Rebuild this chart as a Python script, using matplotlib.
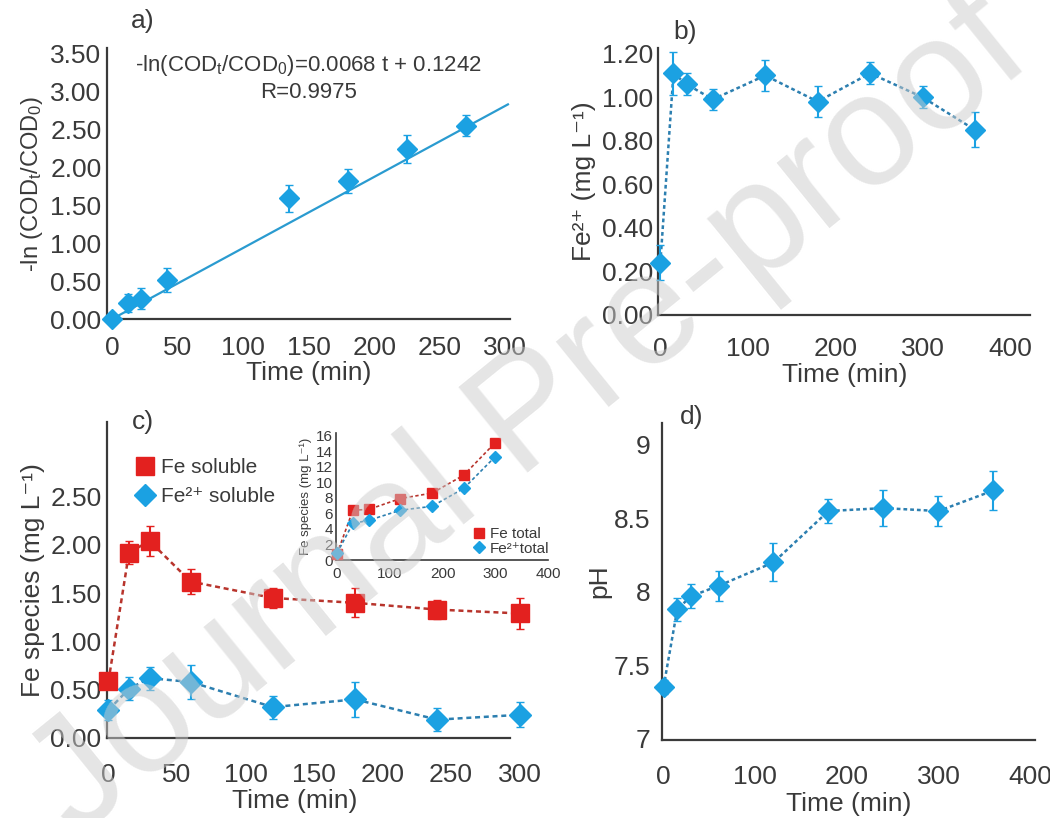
import matplotlib
matplotlib.use("Agg")
import matplotlib.pyplot as plt

plt.rcParams['font.family'] = ['Liberation Sans', 'DejaVu Sans']
plt.rcParams['mathtext.fontset'] = 'custom'
plt.rcParams['mathtext.rm'] = 'Liberation Sans'
plt.rcParams['mathtext.it'] = 'Liberation Sans:italic'
plt.rcParams['mathtext.default'] = 'regular'

blue = '#1ba1e2'
red = '#e3211f'
dark = '#3a3a3a'

# a) kinetics
a_t = [0, 12, 22, 42, 135, 180, 225, 270]
a_y = [0.0, 0.21, 0.27, 0.51, 1.59, 1.82, 2.24, 2.55]
a_err = [0.05, 0.12, 0.14, 0.16, 0.18, 0.16, 0.18, 0.14]
fit_t = [0, 302]
fit_y = [0.0, 2.83]

# b) Fe2+
b_t = [0, 15, 30, 60, 120, 180, 240, 300, 360]
b_y = [0.24, 1.11, 1.06, 0.99, 1.10, 0.98, 1.11, 1.00, 0.85]
b_err = [0.08, 0.10, 0.05, 0.05, 0.07, 0.07, 0.05, 0.05, 0.08]

# c) Fe species
c_t = [0, 15, 30, 60, 120, 180, 240, 300]
c_fe = [0.59, 1.92, 2.04, 1.62, 1.45, 1.40, 1.33, 1.29]
c_fe_err = [0.06, 0.12, 0.16, 0.13, 0.10, 0.15, 0.10, 0.16]
c_fe2 = [0.29, 0.51, 0.62, 0.58, 0.32, 0.40, 0.19, 0.24]
c_fe2_err = [0.10, 0.12, 0.12, 0.18, 0.12, 0.18, 0.12, 0.13]

# c) inset totals
i_t = [0, 30, 60, 120, 180, 240, 300]
i_fe = [0.8, 6.4, 6.5, 7.9, 8.6, 10.9, 15.1]
i_fe2 = [0.9, 4.7, 5.1, 6.4, 6.9, 9.2, 13.3]

# d) pH
d_t = [0, 15, 30, 60, 120, 180, 240, 300, 360]
d_y = [7.35, 7.88, 7.97, 8.04, 8.20, 8.55, 8.57, 8.55, 8.69]
d_err = [0.05, 0.08, 0.08, 0.10, 0.13, 0.08, 0.12, 0.10, 0.13]

fig = plt.figure(figsize=(10.5, 8.18), dpi=100)

def style(ax, fs=19, pad=8):
    for s in ['top', 'right']:
        ax.spines[s].set_visible(False)
    for s in ['left', 'bottom']:
        ax.spines[s].set_color(dark)
        ax.spines[s].set_linewidth(1.6)
    ax.tick_params(length=0, labelsize=fs, colors=dark, pad=pad)

# panel a
ax = fig.add_axes([0.102, 0.610, 0.384, 0.331])
ax.plot(fit_t, fit_y, color='#2a9bd0', lw=1.6, zorder=2)
ax.errorbar(a_t, a_y, yerr=a_err, fmt='D', color=blue, ms=10, capsize=3,
            elinewidth=1.5, zorder=3, clip_on=False)
ax.set_xlim(-3.8, 303.8)
ax.set_ylim(0, 3.57)
ax.set_xticks([0, 50, 100, 150, 200, 250, 300])
ax.set_yticks([0, 0.5, 1, 1.5, 2, 2.5, 3, 3.5])
ax.set_yticklabels(['%.2f' % v for v in ax.get_yticks()])
style(ax, pad=12)
ax.tick_params(axis='y', pad=4)
ax.set_xlabel('Time (min)', fontsize=19, color=dark, labelpad=1)
ax.set_ylabel('-ln (COD$_t$/COD$_0$)', fontsize=17, color=dark, labelpad=4)
ax.text(0.5, 0.935, '-ln(COD$_t$/COD$_0$)=0.0068 t + 0.1242', transform=ax.transAxes,
        ha='center', va='center', fontsize=16, color=dark)
ax.text(0.5, 0.835, 'R=0.9975', transform=ax.transAxes,
        ha='center', va='center', fontsize=16, color=dark)
ax.text(0.06, 1.1, 'a)', transform=ax.transAxes, fontsize=19, color=dark, va='center')

# panel b
ax = fig.add_axes([0.627, 0.615, 0.354, 0.326])
ax.plot(b_t, b_y, color='#2c7fb0', lw=1.8, ls=(0, (1.5, 1.2)), zorder=2)
ax.errorbar(b_t, b_y, yerr=b_err, fmt='D', color=blue, ms=10, capsize=3,
            elinewidth=1.5, zorder=3, clip_on=False)
ax.set_xlim(-2.3, 423)
ax.set_ylim(0, 1.225)
ax.set_xticks([0, 100, 200, 300, 400])
ax.set_yticks([0, 0.2, 0.4, 0.6, 0.8, 1.0, 1.2])
ax.set_yticklabels(['%.2f' % v for v in ax.get_yticks()])
style(ax, pad=16)
ax.tick_params(axis='y', pad=4)
ax.set_xlabel('Time (min)', fontsize=19, color=dark, labelpad=1)
ax.set_ylabel('Fe²⁺ (mg L⁻¹)', fontsize=19, color=dark, labelpad=4)
ax.text(0.04, 1.06, 'b)', transform=ax.transAxes, fontsize=19, color=dark, va='center')

# panel c
ax = fig.add_axes([0.102, 0.0978, 0.398, 0.386])
ax.plot(c_t, c_fe, color='#b8342c', lw=1.8, ls=(0, (2, 1.5)), zorder=2)
ax.plot(c_t, c_fe2, color='#2c7fb0', lw=1.8, ls=(0, (2, 1.5)), zorder=2)
ax.errorbar(c_t, c_fe, yerr=c_fe_err, fmt='s', color=red, ms=13, capsize=3,
            elinewidth=1.5, zorder=3, clip_on=False, label='Fe soluble')
ax.errorbar(c_t, c_fe2, yerr=c_fe2_err, fmt='D', color=blue, ms=11, capsize=3,
            elinewidth=1.5, zorder=3, clip_on=False, label='Fe²⁺ soluble')
ax.set_xlim(-1, 304)
ax.set_ylim(0, 3.27)
ax.spines['bottom'].set_bounds(-1, 293)
ax.set_xticks([0, 50, 100, 150, 200, 250, 300])
ax.set_yticks([0, 0.5, 1, 1.5, 2, 2.5])
ax.set_yticklabels(['%.2f' % v for v in ax.get_yticks()])
style(ax, pad=18)
ax.tick_params(axis='y', pad=4)
ax.set_xlabel('Time (min)', fontsize=19, color=dark)
ax.xaxis.set_label_coords(0.45, -0.16)
ax.set_ylabel('Fe species (mg L⁻¹)', fontsize=19, color=dark, labelpad=4)
ax.text(0.06, 1.0, 'c)', transform=ax.transAxes, fontsize=19, color=dark, va='center')
h, l = ax.get_legend_handles_labels()
h = [x[0] for x in h]
ax.legend(h, l, loc='upper left', bbox_to_anchor=(0.04, 0.92), frameon=False,
          fontsize=15, handlelength=1.0, handletextpad=0.3, labelspacing=0.5,
          borderpad=0, labelcolor=dark)

# inset
ins = fig.add_axes([0.32, 0.3154, 0.202, 0.155])
ins.plot(i_t, i_fe, color='#b8342c', lw=1.2, ls=(0, (2, 1.5)), zorder=2)
ins.plot(i_t, i_fe2, color='#2c7fb0', lw=1.2, ls=(0, (2, 1.5)), zorder=2)
ins.plot(i_t, i_fe, 's', color=red, ms=7, zorder=3, clip_on=False, label='Fe total')
ins.plot(i_t, i_fe2, 'D', color=blue, ms=6, zorder=3, clip_on=False, label='Fe²⁺total')
ins.set_xlim(-2, 396)
ins.set_ylim(0, 16.3)
ins.set_xticks([0, 100, 200, 300, 400])
ins.set_yticks(range(0, 17, 2))
style(ins, fs=11, pad=5)
ins.tick_params(axis='y', pad=2)
ins.spines['left'].set_linewidth(1.2)
ins.spines['bottom'].set_linewidth(1.2)
ins.set_ylabel('Fe species (mg L⁻¹)', fontsize=9.5, color=dark, labelpad=3)
ins.legend(loc='upper left', bbox_to_anchor=(0.61, 0.32), frameon=False,
           fontsize=11, handlelength=0.8, handletextpad=0.3, labelspacing=0.05,
           borderpad=0, labelcolor=dark)

# panel d
ax = fig.add_axes([0.630, 0.0954, 0.356, 0.3875])
ax.plot(d_t, d_y, color='#2c7fb0', lw=1.8, ls=(0, (1.5, 1.2)), zorder=2)
ax.errorbar(d_t, d_y, yerr=d_err, fmt='D', color=blue, ms=10, capsize=3,
            elinewidth=1.5, zorder=3, clip_on=False)
ax.set_xlim(-2.2, 405.7)
ax.set_ylim(6.99, 9.15)
ax.set_xticks([0, 100, 200, 300, 400])
ax.set_yticks([7, 7.5, 8, 8.5, 9])
ax.set_yticklabels(['7', '7.5', '8', '8.5', '9'])
style(ax, pad=18)
ax.tick_params(axis='y', pad=8)
ax.set_xlabel('Time (min)', fontsize=19, color=dark, labelpad=2)
ax.set_ylabel('pH', fontsize=19, color=dark, labelpad=2)
ax.text(0.05, 1.02, 'd)', transform=ax.transAxes, fontsize=19, color=dark, va='center')

# watermark
fig.text(0.505, 0.49, 'Journal Pre-proof', rotation=39, fontsize=115,
         color='#cccccc', alpha=0.5, ha='center', va='center', zorder=10)

fig.savefig('out.png', dpi=100)
